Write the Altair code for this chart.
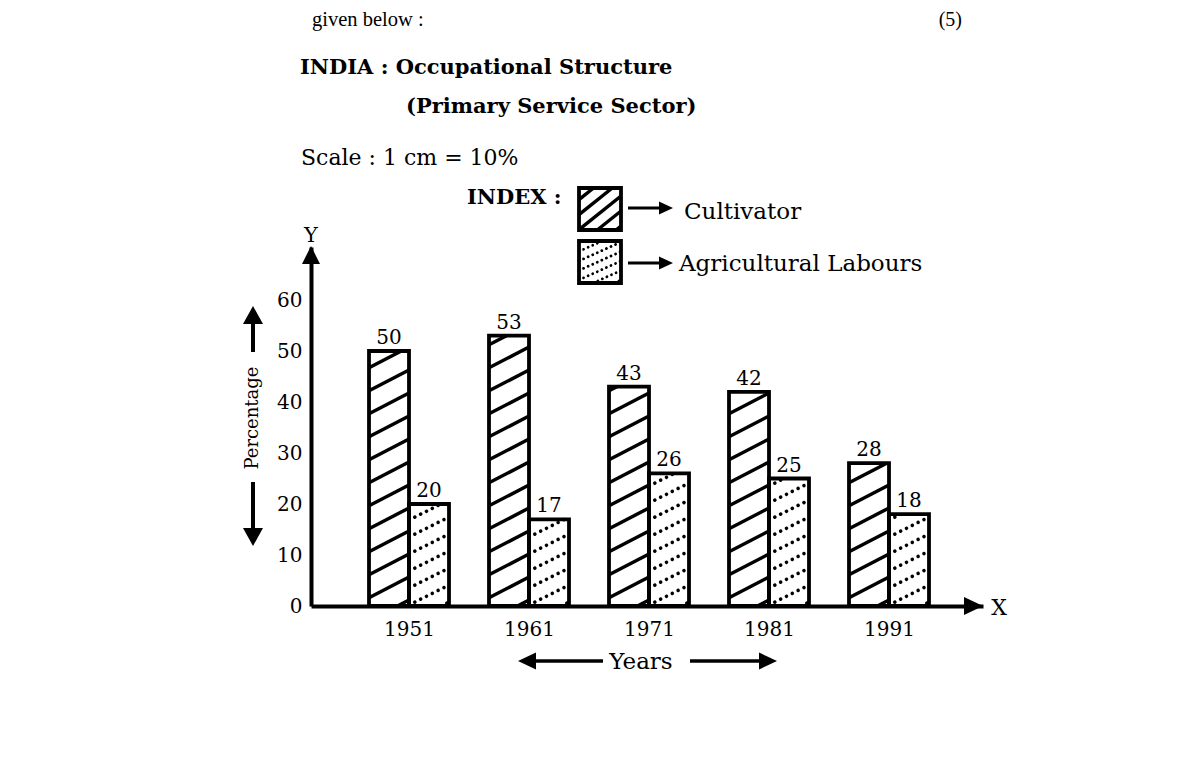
import altair as alt
import pandas as pd

years = [1951, 1961, 1971, 1981, 1991]
cultivator = [50, 53, 43, 42, 28]
agri_labour = [20, 17, 26, 25, 18]
y_ticks = [0, 10, 20, 30, 40, 50, 60]

SERIF = "DejaVu Serif"

# plot area sits at page (311, 247) and is 672 x 359 px
W, H = 672, 359
PX_YEAR = 12.0   # px per year on the x axis
PX_PCT = 5.1     # px per percent on the y axis
X_MIN = 1951 - 98 / PX_YEAR
X_MAX = X_MIN + W / PX_YEAR
Y_MAX = H / PX_PCT
BAR = 40 / PX_YEAR

xs = alt.Scale(domain=[X_MIN, X_MAX], nice=False, zero=False)
ys = alt.Scale(domain=[0, Y_MAX], nice=False, zero=False)
ONE = pd.DataFrame({"k": [0]})

# same axis objects in every layer, so the layers merge into one axis each
AX_X = alt.Axis(values=years, format="d", title=None, labelPadding=13)
AX_Y = alt.Axis(values=y_ticks, title=None, labelPadding=9)


def page(x, y):
    # page pixel -> plot pixel
    return x - 311, y - 247


def to_data(x, y):
    # page pixel -> data units (only used to place the INDEX boxes)
    return X_MIN + (x - 311) / PX_YEAR, (606 - y) / PX_PCT


def hatch(x0, x1, y0, y1, slope_px, gap_px, phase_px=0.0):
    k = slope_px * PX_YEAR / PX_PCT
    gap = gap_px / PX_PCT
    rows = []
    c = y0 - k * (x1 - x0) + phase_px / PX_PCT
    while c < y1:
        xa = max(x0, x0 + (y0 - c) / k)
        xb = min(x1, x0 + (y1 - c) / k)
        if xb > xa:
            rows.append({"x": xa, "y": c + k * (xa - x0), "x2": xb, "y2": c + k * (xb - x0)})
        c += gap
    return rows


# bars
bars = []
for yr, c, a in zip(years, cultivator, agri_labour):
    bars.append({"x": yr - BAR, "x2": yr, "y": 0, "y2": c, "kind": "Cultivator", "mid": yr - BAR / 2, "val": c})
    bars.append({"x": yr, "x2": yr + BAR, "y": 0, "y2": a, "kind": "Agricultural Labours", "mid": yr + BAR / 2, "val": a})
df_bars = pd.DataFrame(bars)

# index boxes
lx0, ly0 = to_data(579, 230)
lx1, ly1 = to_data(621, 188)
mx0, my0 = to_data(579, 283)
mx1, my1 = to_data(621, 241)
df_boxes = pd.DataFrame([
    {"x": lx0, "x2": lx1, "y": ly0, "y2": ly1},
    {"x": mx0, "x2": mx1, "y": my0, "y2": my1},
])

solid, dotted = [], []
for r in bars:
    if r["kind"] == "Cultivator":
        solid += hatch(r["x"], r["x2"], 0, r["val"], 0.52, 23, 6)
    else:
        dotted += hatch(r["x"], r["x2"], 0, r["val"], 0.5, 17, 4)
solid_leg = hatch(lx0, lx1, ly0, ly1, 0.8, 15, 4)
dotted_leg = hatch(mx0, mx1, my0, my1, 0.45, 9.5, 3)


def seg_enc():
    return dict(
        x=alt.X("x:Q", scale=xs, axis=AX_X),
        x2="x2:Q",
        y=alt.Y("y:Q", scale=ys, axis=AX_Y),
        y2="y2:Q",
    )


solid_layer = alt.Chart(pd.DataFrame(solid)).mark_rule(color="black", strokeWidth=3.5).encode(**seg_enc())
dotted_layer = alt.Chart(pd.DataFrame(dotted)).mark_rule(
    color="black", strokeWidth=3.6, strokeDash=[0.01, 6.5], strokeCap="round"
).encode(**seg_enc())
solid_leg_layer = alt.Chart(pd.DataFrame(solid_leg)).mark_rule(color="black", strokeWidth=3.5).encode(**seg_enc())
dotted_leg_layer = alt.Chart(pd.DataFrame(dotted_leg)).mark_rule(
    color="black", strokeWidth=2.8, strokeDash=[0.01, 5], strokeCap="round"
).encode(**seg_enc())

bar_layer = alt.Chart(df_bars).mark_rect(filled=False, color="black", strokeWidth=3.8).encode(**seg_enc())
box_layer = alt.Chart(df_boxes).mark_rect(filled=False, color="black", strokeWidth=3.8).encode(**seg_enc())

value_layer = alt.Chart(df_bars).mark_text(
    font=SERIF, fontSize=20, color="black", baseline="alphabetic", dy=-7
).encode(
    x=alt.X("mid:Q", scale=xs, axis=AX_X),
    y=alt.Y("val:Q", scale=ys, axis=AX_Y),
    text="val:Q",
)


def shaft(x1, y1, x2, y2, w=3.5):
    a, b = page(x1, y1)
    c, d = page(x2, y2)
    return alt.Chart(ONE).mark_rule(color="black", strokeWidth=w).encode(
        x=alt.value(a), y=alt.value(b), x2=alt.value(c), y2=alt.value(d)
    )


def head(tx, ty, direction, length, half):
    s = max(length / 2, half)
    a = length / 2 / s
    b = half / s
    if direction == "up":
        path, cx, cy = f"M0,{-a}L{b},{a}L{-b},{a}Z", tx, ty + length / 2
    elif direction == "down":
        path, cx, cy = f"M0,{a}L{b},{-a}L{-b},{-a}Z", tx, ty - length / 2
    elif direction == "right":
        path, cx, cy = f"M{a},0L{-a},{b}L{-a},{-b}Z", tx - length / 2, ty
    else:
        path, cx, cy = f"M{-a},0L{a},{b}L{a},{-b}Z", tx + length / 2, ty
    px, py = page(cx, cy)
    return alt.Chart(ONE).mark_point(
        shape=path, size=(2 * s) ** 2, filled=True, color="black", opacity=1, strokeWidth=0
    ).encode(x=alt.value(px), y=alt.value(py))


def label(text, x, y, size, align="left", weight="normal", font=SERIF, angle=0, baseline="middle"):
    px, py = page(x, y)
    return alt.Chart(ONE).mark_text(
        text=text, align=align, baseline=baseline, fontSize=size, fontWeight=weight,
        font=font, color="black", angle=angle,
    ).encode(x=alt.value(px), y=alt.value(py))


decor = [
    # axis arrow heads
    head(311, 246, "up", 18, 9),
    head(983, 606, "right", 19, 9),
    label("Y", 311, 236, 21, align="center"),
    label("X", 999, 608, 22, align="center"),
    # Percentage
    shaft(253, 352, 253, 320, 4),
    head(253, 306, "up", 18, 10),
    shaft(253, 482, 253, 530, 4),
    head(253, 546, "down", 18, 10),
    label("Percentage", 253, 418, 18, align="center", angle=270),
    # Years
    shaft(603, 661, 530, 661, 3.5),
    head(518, 661, "left", 18, 8.5),
    shaft(690, 661, 765, 661, 3.5),
    head(777, 661, "right", 18, 8.5),
    label("Years", 641, 662, 23, align="center"),
    # index
    label("INDEX :", 467, 198, 21, weight="bold"),
    shaft(628, 208, 662, 208, 3),
    head(673, 208, "right", 14, 6.5),
    shaft(628, 263, 662, 263, 3),
    head(673, 263, "right", 14, 6.5),
    label("Cultivator", 684, 212, 23),
    label("Agricultural Labours", 679, 264, 23),
    # headings
    label("given below :", 312, 26, 20.5, font="Liberation Serif", baseline="alphabetic"),
    label("(5)", 962, 26, 20, align="right", font="Liberation Serif", baseline="alphabetic"),
    label("INDIA : Occupational Structure", 300, 68, 21, weight="bold"),
    label("(Primary Service Sector)", 406, 107, 21, weight="bold"),
    label("Scale : 1 cm = 10%", 301, 158, 22),
]

chart = alt.layer(
    bar_layer, solid_layer, dotted_layer, box_layer, solid_leg_layer, dotted_leg_layer,
    value_layer, *decor,
).properties(
    width=W, height=H,
    autosize=alt.AutoSizeParams(type="none"),
    padding={"left": 303, "top": 239, "right": 200, "bottom": 162},
    background="white",
).configure_view(
    stroke=None
).configure_axis(
    ticks=False, grid=False, domainColor="black", domainWidth=4,
    labelFont=SERIF, labelFontSize=20, labelColor="black",
    labelFlush=False, labelOverlap=False,
)

chart.save("out.html", embed_options={"renderer": "svg", "actions": False})
